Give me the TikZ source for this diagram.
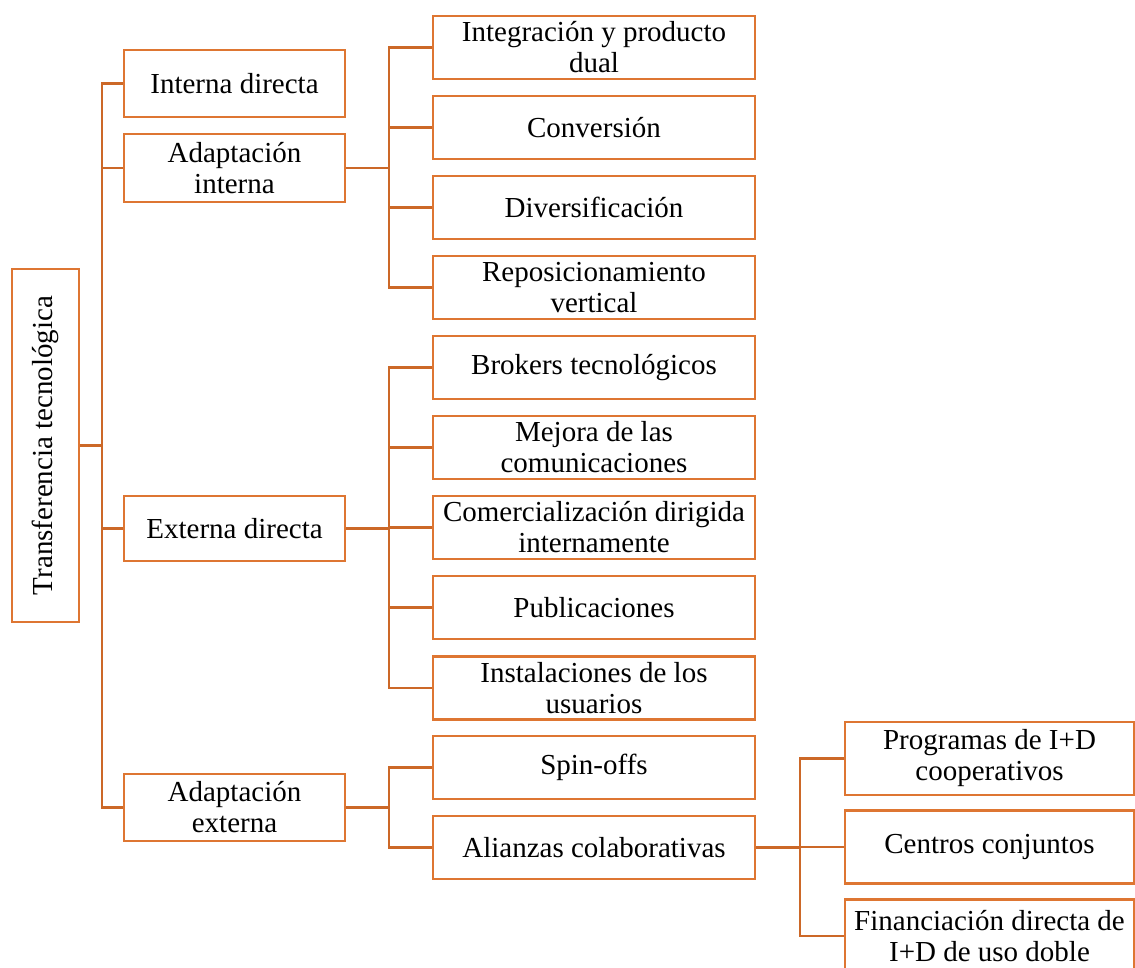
\documentclass[tikz,border=0pt]{standalone}
\usepackage{fontspec}
\setmainfont{Liberation Serif}
\definecolor{boxc}{RGB}{222,118,50}
\definecolor{linec}{RGB}{204,104,40}
\begin{document}
\begin{tikzpicture}[x=1pt,y=-1pt,
  box/.style={draw=boxc,line width=2.6pt,fill=white,inner sep=0pt,align=center,
    font=\fontsize{29}{31}\selectfont},
  lone/.style={box,minimum width=221,minimum height=66},
  ltwo/.style={box,minimum width=322,minimum height=63},
  lthree/.style={box,minimum width=289,minimum height=73},
  conn/.style={draw=linec,line width=2.6pt}]
\useasboundingbox (0,0) rectangle (1135,967);

\node[box,minimum width=353,minimum height=67,rotate=90] (root) at (45.5,445.5) {Transferencia tecnológica};

\node[lone,minimum height=67] (a1) at (234.5,83.5) {Interna directa};
\node[lone,minimum height=68] (a2) at (234.5,168) {Adaptación\\interna};
\node[lone,minimum height=65] (a3) at (234.5,528.5) {Externa directa};
\node[lone,minimum height=67] (a4) at (234.5,807.5) {Adaptación\\externa};

\node[ltwo] (c1) at (594,47.5) {Integración y producto\\dual};
\node[ltwo] (c2) at (594,127.5) {Conversión};
\node[ltwo] (c3) at (594,207.5) {Diversificación};
\node[ltwo] (c4) at (594,287.5) {Reposicionamiento\\vertical};
\node[ltwo] (c5) at (594,367.5) {Brokers tecnológicos};
\node[ltwo] (c6) at (594,447.5) {Mejora de las\\comunicaciones};
\node[ltwo] (c7) at (594,527.5) {Comercialización dirigida\\internamente};
\node[ltwo] (c8) at (594,607.5) {Publicaciones};
\node[ltwo] (c9) at (594,688) {Instalaciones de los\\usuarios};
\node[ltwo] (c10) at (594,767.5) {Spin-offs};
\node[ltwo] (c11) at (594,847.5) {Alianzas colaborativas};

\node[lthree] (d1) at (989.5,758.5) {Programas de I+D\\cooperativos};
\node[lthree] (d2) at (989.5,847) {Centros conjuntos};
\node[lthree] (d3) at (989.5,936) {Financiación directa de\\I+D de uso doble};

\coordinate (b0) at (102,0);
\coordinate (b1) at (389,0);
\coordinate (b2) at (800,0);

% root level
\draw[conn] (root.south) -- (root.south -| b0);
\draw[conn] (a1.west) -- (a1.west -| b0) -- (a4.west -| b0) -- (a4.west);
\draw[conn] (a2.west) -- (a2.west -| b0);
\draw[conn] (a3.west) -- (a3.west -| b0);

% adaptacion interna
\draw[conn] (a2.east) -- (a2.east -| b1);
\draw[conn] (c1.west) -- (c1.west -| b1) -- (c4.west -| b1) -- (c4.west);
\draw[conn] (c2.west) -- (c2.west -| b1);
\draw[conn] (c3.west) -- (c3.west -| b1);

% externa directa
\draw[conn] (a3.east) -- (a3.east -| b1);
\draw[conn] (c5.west) -- (c5.west -| b1) -- (c9.west -| b1) -- (c9.west);
\draw[conn] (c6.west) -- (c6.west -| b1);
\draw[conn] (c7.west) -- (c7.west -| b1);
\draw[conn] (c8.west) -- (c8.west -| b1);

% adaptacion externa
\draw[conn] (a4.east) -- (a4.east -| b1);
\draw[conn] (c10.west) -- (c10.west -| b1) -- (c11.west -| b1) -- (c11.west);

% alianzas
\draw[conn] (c11.east) -- (c11.east -| b2);
\draw[conn] (d1.west) -- (d1.west -| b2) -- (d3.west -| b2) -- (d3.west);
\draw[conn] (d2.west) -- (d2.west -| b2);
\end{tikzpicture}
\end{document}
